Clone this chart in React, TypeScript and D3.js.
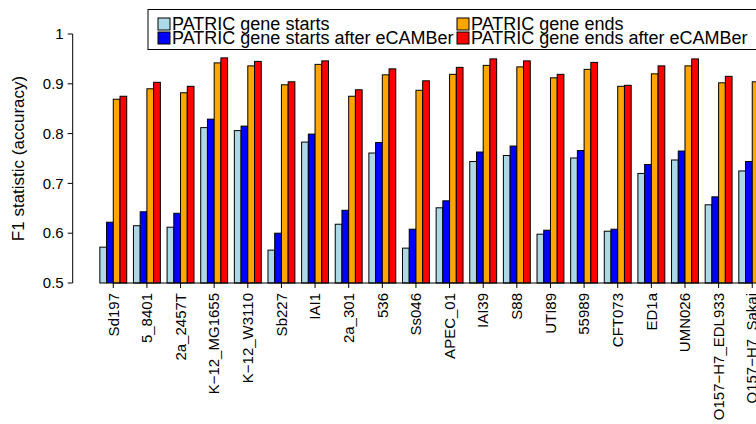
import React, { useEffect, useRef } from "react";
import * as d3 from "d3";

const categories = [
  "Sd197", "5_8401", "2a_2457T", "K−12_MG1655", "K−12_W3110", "Sb227", "IAI1", "2a_301", "536", "Ss046",
  "APEC_01", "IAI39", "S88", "UTI89", "55989", "CFT073", "ED1a", "UMN026", "O157−H7_EDL933", "O157−H7_Sakai",
];
const geneStarts = [0.572, 0.615, 0.612, 0.812, 0.806, 0.566, 0.783, 0.618, 0.761, 0.570, 0.651, 0.744, 0.756, 0.598, 0.751, 0.604, 0.720, 0.747, 0.657, 0.725];
const geneStartsAfter = [0.622, 0.643, 0.640, 0.829, 0.815, 0.600, 0.799, 0.646, 0.782, 0.608, 0.665, 0.763, 0.775, 0.606, 0.766, 0.608, 0.738, 0.765, 0.673, 0.744];
const geneEnds = [0.869, 0.890, 0.882, 0.942, 0.936, 0.898, 0.939, 0.875, 0.918, 0.887, 0.919, 0.937, 0.934, 0.912, 0.929, 0.895, 0.920, 0.936, 0.902, 0.904];
const geneEndsAfter = [0.875, 0.903, 0.895, 0.952, 0.945, 0.904, 0.946, 0.888, 0.930, 0.906, 0.933, 0.950, 0.946, 0.919, 0.943, 0.897, 0.936, 0.950, 0.915, 0.915];
const seriesNames = [
  "PATRIC gene starts",
  "PATRIC gene starts after eCAMBer",
  "PATRIC gene ends",
  "PATRIC gene ends after eCAMBer",
];
const seriesColors = ["#ADD8E6", "#0000FF", "#FFA500", "#FF0000"];
const yTicks = [0.5, 0.6, 0.7, 0.8, 0.9, 1];
const yTitle = "F1 statistic (accuracy)";

const FONT = "'Liberation Sans', Arial, Helvetica, sans-serif";

export default function App() {
  const ref = useRef<SVGSVGElement>(null);
  useEffect(() => {
    const svg = d3.select(ref.current);
    svg.selectAll("*").remove();
    const series = [geneStarts, geneStartsAfter, geneEnds, geneEndsAfter];
    const nGroups = categories.length;
    const nSeries = series.length;
    const unitsPerGroup = nSeries + 1;
    const totalUnits = nGroups * unitsPerGroup;
    const x = d3.scaleLinear().domain([0, totalUnits]).range([93.1, 93.1 + 6.726 * totalUnits]);
    const y = d3.scaleLinear().domain([0.5, 1]).range([283, 34]);
    const center = (i: number) => x(i * unitsPerGroup + 1 + nSeries / 2);

    // bars
    const g = svg.append("g");
    series.forEach((vals, s) => {
      g.selectAll(null)
        .data(vals)
        .enter()
        .append("rect")
        .attr("x", (_d, i) => x(i * unitsPerGroup + 1 + s))
        .attr("width", x(1) - x(0))
        .attr("y", (d) => y(d))
        .attr("height", (d) => y(0.5) - y(d))
        .attr("fill", seriesColors[s])
        .attr("stroke", "#000")
        .attr("stroke-width", 1);
    });

    // y axis
    const ya = svg.append("g").attr("transform", "translate(72.7,0)");
    ya.append("line").attr("y1", y(0.5)).attr("y2", y(1)).attr("stroke", "#000");
    yTicks.forEach((t) => {
      ya.append("line").attr("x1", 0).attr("x2", -5).attr("y1", y(t)).attr("y2", y(t)).attr("stroke", "#000");
      ya.append("text")
        .attr("x", -9)
        .attr("y", y(t))
        .attr("dy", "0.35em")
        .attr("text-anchor", "end")
        .attr("font-family", FONT)
        .attr("font-size", 15)
        .text(d3.format("")(t));
    });
    svg.append("text")
      .attr("transform", `translate(24,${(y(0.5) + y(1)) / 2}) rotate(-90)`)
      .attr("text-anchor", "middle")
      .attr("font-family", FONT)
      .attr("font-size", 17)
      .text(yTitle);

    // x axis
    const xa = svg.append("g");
    xa.append("line")
      .attr("x1", center(0)).attr("x2", center(nGroups - 1))
      .attr("y1", 283).attr("y2", 283).attr("stroke", "#000");
    categories.forEach((c, i) => {
      xa.append("line").attr("x1", center(i)).attr("x2", center(i)).attr("y1", 283).attr("y2", 288).attr("stroke", "#000");
      xa.append("text")
        .attr("transform", `translate(${center(i)},293) rotate(-90)`)
        .attr("text-anchor", "end")
        .attr("dy", "0.35em")
        .attr("font-family", FONT)
        .attr("font-size", 15)
        .text(c);
    });

    // legend
    const lg = svg.append("g");
    lg.append("rect").attr("x", 148).attr("y", 9.5).attr("width", 700).attr("height", 40)
      .attr("fill", "#fff").attr("stroke", "#000");
    const colX = [158, 457];
    seriesNames.forEach((n, s) => {
      const col = Math.floor(s / 2);
      const row = s % 2;
      const yy = 18 + row * 14;
      lg.append("rect").attr("x", colX[col]).attr("y", yy).attr("width", 12).attr("height", 12)
        .attr("fill", seriesColors[s]).attr("stroke", "#000");
      lg.append("text").attr("x", colX[col] + 14).attr("y", yy + 11.5)
        .attr("font-family", FONT).attr("font-size", 18).text(n);
    });
  }, []);
  return (
    <svg
      ref={ref}
      width={756}
      height={424}
      style={{ position: "fixed", left: 0, top: 0, background: "#fff" }}
    />
  );
}
